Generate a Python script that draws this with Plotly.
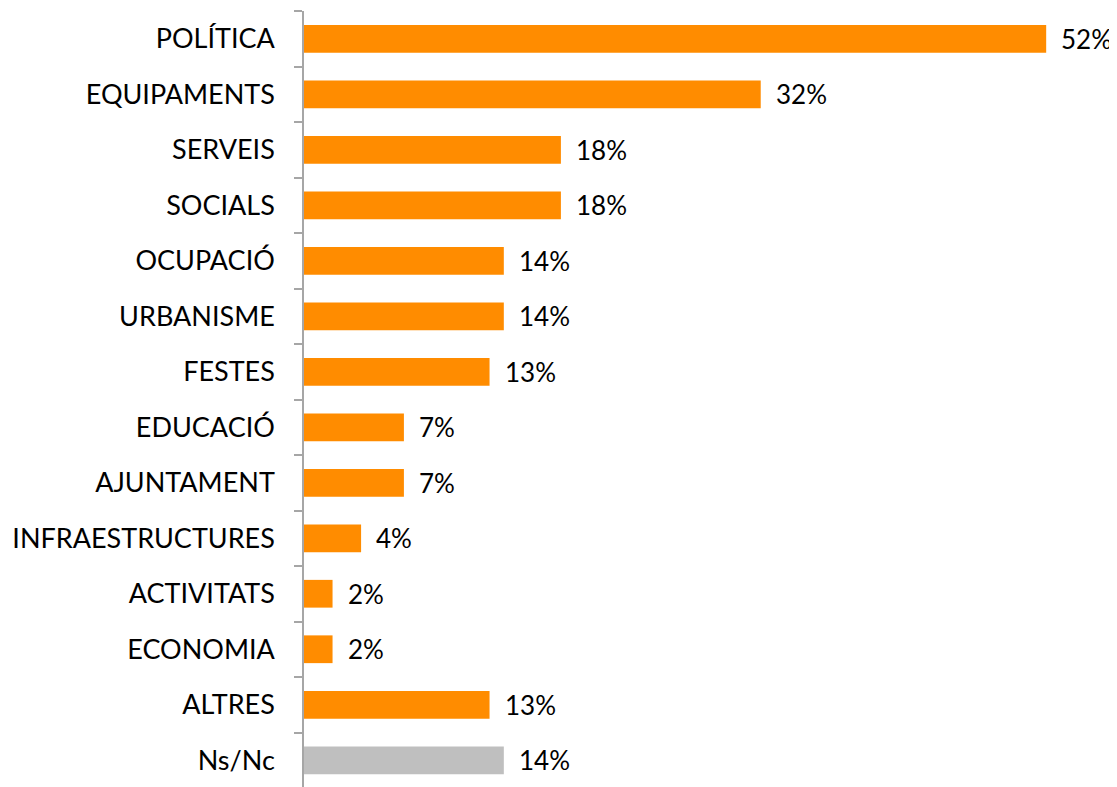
import plotly.graph_objects as go

categories = ["POLÍTICA", "EQUIPAMENTS", "SERVEIS", "SOCIALS", "OCUPACIÓ", "URBANISME",
              "FESTES", "EDUCACIÓ", "AJUNTAMENT", "INFRAESTRUCTURES", "ACTIVITATS",
              "ECONOMIA", "ALTRES", "Ns/Nc"]
values = [52, 32, 18, 18, 14, 14, 13, 7, 7, 4, 2, 2, 13, 14]
bar_colors = ["#FF8C00"] * 13 + ["#BFBFBF"]

FONT = "Lato"

fig = go.Figure()
fig.add_trace(go.Bar(
    x=values, y=categories, orientation="h",
    marker=dict(color=bar_colors, line=dict(width=0)),
    width=0.5, hoverinfo="skip",
))

for c, v in zip(categories, values):
    fig.add_annotation(x=v, y=c, text=f"{v}%", showarrow=False,
                       xanchor="left", yanchor="middle", xshift=13,
                       font=dict(family=FONT, size=26, color="#000000"))

fig.update_layout(
    width=1117, height=787,
    margin=dict(l=296, r=36, t=3, b=7),
    plot_bgcolor="white", paper_bgcolor="white",
    showlegend=False,
    bargap=0.5,
    xaxis=dict(range=[0, 55], visible=False, fixedrange=True, automargin=False),
    yaxis=dict(
        categoryorder="array", categoryarray=categories,
        autorange="reversed", automargin=False,
        showline=True, linecolor="#A6A6A6", linewidth=1.5,
        ticks="outside", ticklen=8, tickcolor="#A6A6A6", tickwidth=1.5,
        tickson="boundaries",
        ticklabelstandoff=22,
        tickfont=dict(family=FONT, size=27, color="#000000"),
        showgrid=False, zeroline=False,
    ),
)

fig.write_html("out.html")
